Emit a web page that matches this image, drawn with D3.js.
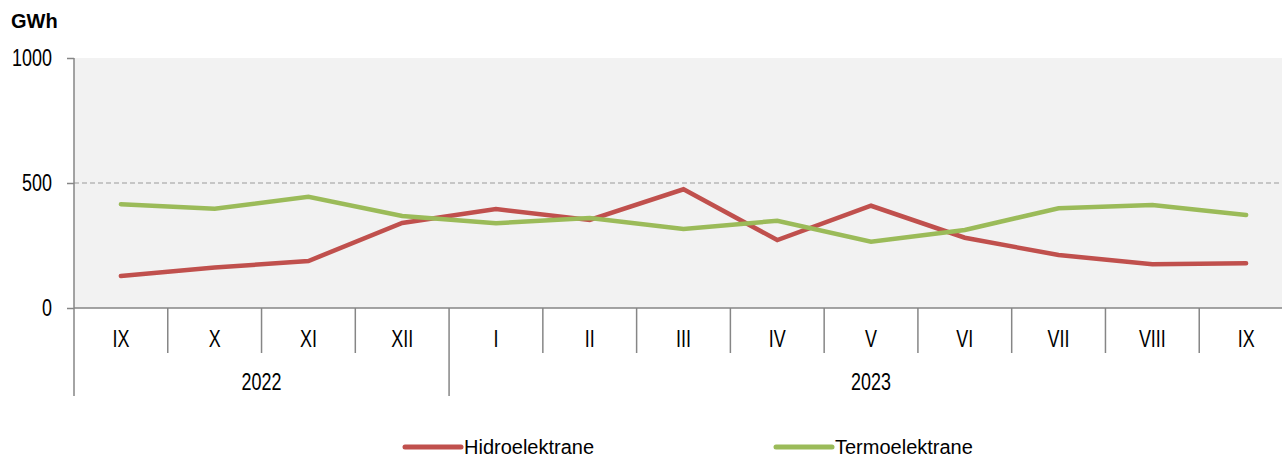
<!DOCTYPE html>
<html>
<head>
<meta charset="utf-8">
<script src="https://cdn.jsdelivr.net/npm/d3@7"></script>
<style>
  html, body { margin: 0; padding: 0; background: #ffffff; }
  svg { display: block; }
  text { font-family: "Liberation Sans", Arial, sans-serif; fill: #000; }
</style>
</head>
<body>
<svg id="chart" width="1282" height="457"></svg>
<script>
const months = ["IX", "X", "XI", "XII", "I", "II", "III", "IV", "V", "VI", "VII", "VIII", "IX"];
const years = [{label: "2022", start: 0, end: 4}, {label: "2023", start: 4, end: 13}];
const hidro = [128, 162, 188, 340, 396, 352, 475, 272, 409, 281, 212, 175, 179];
const termo = [415, 397, 445, 368, 339, 360, 316, 349, 265, 312, 399, 412, 372];
const yTicks = [0, 500, 1000];
const seriesNames = ["Hidroelektrane", "Termoelektrane"];
const seriesColors = ["#c0504d", "#9bbb59"];
const unit = "GWh";

const svg = d3.select("#chart");
const pLeft = 74, pRight = 1293, pTop = 58, pBottom = 308;
const idx = d3.range(months.length);
const x = d3.scaleBand().domain(idx).range([pLeft, pRight]).padding(0);
const y = d3.scaleLinear().domain([0, 1000]).range([pBottom, pTop]);
const axisColor = "#868686";
const sx = 0.78;
const edge = i => (i < months.length ? x(i) : pRight);

// plot background
svg.append("rect").attr("x", pLeft).attr("y", pTop).attr("width", pRight - pLeft).attr("height", pBottom - pTop).attr("fill", "#f2f2f2");

// dashed gridline at 500
svg.append("line").attr("x1", pLeft).attr("x2", pRight).attr("y1", y(500)).attr("y2", y(500))
  .attr("stroke", "#9a9a9a").attr("stroke-width", 1).attr("stroke-dasharray", "5,3");

// y axis ticks
const yAxis = d3.axisLeft(y).tickValues(yTicks).tickSize(7).tickFormat("");
const gy = svg.append("g").attr("transform", `translate(${pLeft},0)`).call(yAxis);
gy.select(".domain").remove();
gy.selectAll(".tick line").attr("stroke", axisColor).attr("stroke-width", 1.5);
svg.append("line").attr("x1", pLeft).attr("x2", pLeft).attr("y1", pTop).attr("y2", 396)
  .attr("stroke", axisColor).attr("stroke-width", 1.5);
yTicks.forEach(t => {
  svg.append("text").attr("transform", `translate(52,${y(t) + 8}) scale(${sx},1)`)
    .attr("text-anchor", "end").attr("font-size", 23).text(t);
});

// x axis line
svg.append("line").attr("x1", pLeft).attr("x2", pRight).attr("y1", pBottom).attr("y2", pBottom)
  .attr("stroke", axisColor).attr("stroke-width", 1.5);

// month separators
idx.slice(1).forEach(i => {
  const isYear = years.some(yr => yr.start === i);
  svg.append("line").attr("x1", x(i)).attr("x2", x(i)).attr("y1", pBottom).attr("y2", isYear ? 396 : 353)
    .attr("stroke", axisColor).attr("stroke-width", 1.5);
});

// month labels
idx.forEach(i => {
  svg.append("text").attr("transform", `translate(${x(i) + x.bandwidth() / 2},347) scale(${sx},1)`)
    .attr("text-anchor", "middle").attr("font-size", 23).text(months[i]);
});

// year labels
years.forEach(yr => {
  const cx = (edge(yr.start) + edge(yr.end)) / 2;
  svg.append("text").attr("transform", `translate(${cx},390) scale(${sx},1)`)
    .attr("text-anchor", "middle").attr("font-size", 23).text(yr.label);
});

// unit
svg.append("text").attr("x", 11).attr("y", 28).attr("font-size", 20).attr("font-weight", "bold").text(unit);

// lines
const line = d3.line().x(i => x(i) + x.bandwidth() / 2);
[hidro, termo].forEach((data, k) => {
  svg.append("path").datum(idx)
    .attr("d", line.y(i => y(data[i])))
    .attr("fill", "none").attr("stroke", seriesColors[k]).attr("stroke-width", 4.5)
    .attr("stroke-linecap", "round").attr("stroke-linejoin", "miter");
});

// legend
const legendX = [405, 776];
seriesNames.forEach((name, k) => {
  svg.append("line").attr("x1", legendX[k]).attr("x2", legendX[k] + 56).attr("y1", 447).attr("y2", 447)
    .attr("stroke", seriesColors[k]).attr("stroke-width", 5).attr("stroke-linecap", "round");
  svg.append("text").attr("x", legendX[k] + 59).attr("y", 454).attr("font-size", 20).text(name);
});
</script>
</body>
</html>
